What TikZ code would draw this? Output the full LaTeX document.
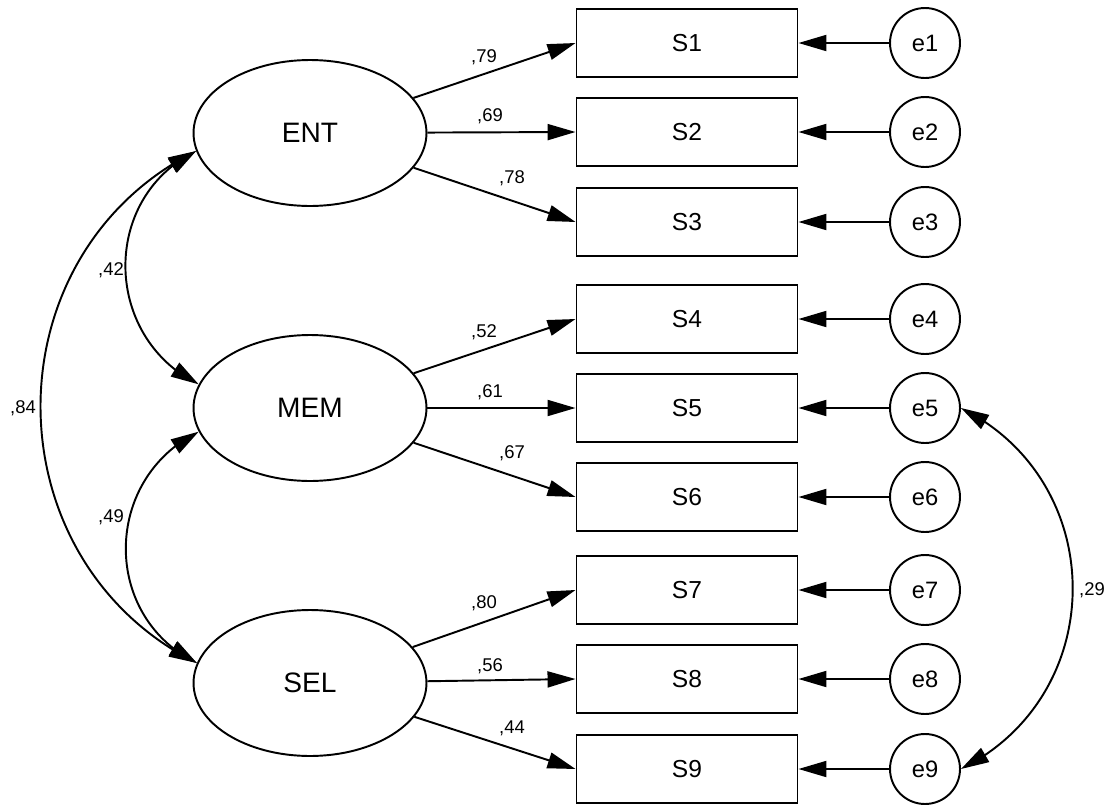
\documentclass[tikz,border=0pt]{standalone}
\usepackage{fontspec}
\setmainfont{Liberation Sans}
\usetikzlibrary{arrows.meta,bending,shapes.geometric}

\tikzset{
  latent/.style={draw,ellipse,minimum width=4.66cm,minimum height=2.92cm,font=\fontsize{16}{18}\selectfont},
  obs/.style={draw,rectangle,minimum width=4.42cm,minimum height=1.36cm,font=\fontsize{14}{16}\selectfont},
  err/.style={draw,circle,minimum size=1.4cm,inner sep=0pt,font=\fontsize{13.5}{15}\selectfont},
  coef/.style={font=\fontsize{10.5}{12}\selectfont,inner sep=0pt},
  tip/.style={-{Triangle[length=0.56cm,width=0.32cm]}},
  both/.style={{Triangle[length=0.56cm,width=0.32cm]}-{Triangle[length=0.56cm,width=0.32cm]}}
}

\begin{document}
\begin{tikzpicture}[x=0.02cm,y=-0.02cm,line width=1.1pt]

\useasboundingbox (0,0) rectangle (1110,805);

% latent factors
\node[latent] (ENT) at (310,133) {ENT};
\node[latent] (MEM) at (310,408) {MEM};
\node[latent] (SEL) at (310,683) {SEL};

% items and errors
\foreach \i/\y in {1/43,2/132,3/222,4/319,5/408,6/497,7/590,8/679,9/769} {
  \node[obs] (S\i) at (687,\y) {S\i};
  \node[err] (e\i) at (925,\y) {e\i};
  \draw[tip] (e\i) -- (S\i);
}

% loadings
\draw[tip] (ENT) -- (S1.west);
\draw[tip] (ENT) -- (S2.west);
\draw[tip] (ENT) -- (S3.west);
\draw[tip] (MEM) -- (S4.west);
\draw[tip] (MEM) -- (S5.west);
\draw[tip] (MEM) -- (S6.west);
\draw[tip] (SEL) -- (S7.west);
\draw[tip] (SEL) -- (S8.west);
\draw[tip] (SEL) -- (S9.west);

\node[coef] (l1) at (484,57) {,79};
\node[coef] (l2) at (490,116) {,69};
\node[coef] (l3) at (512,178) {,78};
\node[coef] (l4) at (484,332) {,52};
\node[coef] (l5) at (490,392) {,61};
\node[coef] (l6) at (512,453) {,67};
\node[coef] (l7) at (484,603) {,80};
\node[coef] (l8) at (490,666) {,56};
\node[coef] (l9) at (512,728) {,44};

% covariances (circular arcs)
\draw[both] (ENT.189) .. controls +(-96,47) and +(-96,-47) .. (MEM.168);
\draw[both] (MEM.192) .. controls +(-96,47) and +(-96,-47) .. (SEL.170);
\draw[both] (ENT.189) .. controls +(-208,104) and +(-208,-104) .. (SEL.170);
\draw[both] (e5.east) .. controls +(149,74) and +(149,-74) .. (e9.east);

\node[coef] (c1) at (111,270) {,42};
\node[coef] (c2) at (111,517) {,49};
\node[coef] (c3) at (23,408) {,84};
\node[coef] (c4) at (1092,590) {,29};

\end{tikzpicture}
\end{document}
